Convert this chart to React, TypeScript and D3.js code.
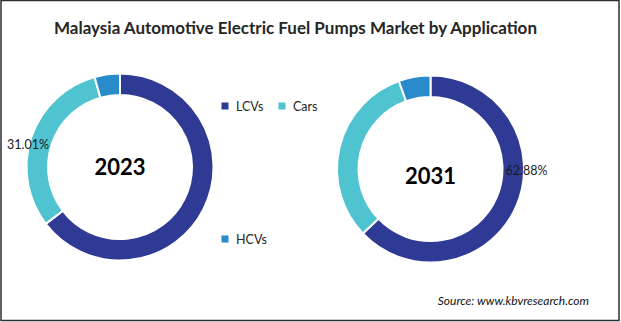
import React from "react";
import * as d3 from "d3";

const categories = ["LCVs", "Cars", "HCVs"];
const values2023 = [64.6, 31.01, 4.39];
const values2031 = [62.88, 31.62, 5.5];
const years = ["2023", "2031"];
const colors = ["#2E3A94", "#4FC3CF", "#2A8BCB"];
const title = "Malaysia Automotive Electric Fuel Pumps Market by Application";
const source = "Source: www.kbvresearch.com";

const W = 621;
const H = 322;
const FONT = "Lato, 'Open Sans', sans-serif";

type DonutProps = {
  cx: number;
  cy: number;
  values: number[];
  year: string;
  labelIndex: number;
  labelPos: [number, number];
  yearDy: number;
};

function Donut({ cx, cy, values, year, labelIndex, labelPos, yearDy }: DonutProps) {
  const pie = d3.pie<number>().sort(null).value((d) => d);
  const arcs = pie(values);
  const arc = d3.arc<d3.PieArcDatum<number>>().innerRadius(72).outerRadius(93.5);
  const fmt = (v: number) => v.toFixed(2) + "%";
  return (
    <g transform={`translate(${cx},${cy})`}>
      {arcs.map((a, i) => (
        <path key={i} d={arc(a) || ""} fill={colors[i]} stroke="#ffffff" strokeWidth={2} />
      ))}
      <text
        x={0}
        y={yearDy}
        textAnchor="middle"
        fontFamily={FONT}
        fontWeight={700}
        fontSize={22}
        fill="#000"
      >
        {year}
      </text>
      <text
        x={labelPos[0]}
        y={labelPos[1]}
        fontFamily={FONT}
        fontSize={12.5}
        fill="#1a1a1a"
      >
        {fmt(values[labelIndex])}
      </text>
    </g>
  );
}

export default function App() {
  const legend = [
    { i: 0, x: 225, y: 106 },
    { i: 1, x: 282, y: 106 },
    { i: 2, x: 225, y: 239 },
  ];
  return (
    <div style={{ position: "absolute", left: 0, top: 0 }}>
      <svg width={W} height={H} style={{ display: "block", background: "#fff" }}>
        <rect x={1} y={0.5} width={618} height={320} fill="#fff" stroke="#2a2f33" strokeWidth={1.5} />
        <text
          x={295.5}
          y={34}
          textAnchor="middle"
          fontFamily={FONT}
          fontWeight={700}
          fontSize={17}
          fill="#262626"
        >
          {title}
        </text>
        <Donut
          cx={120}
          cy={167}
          values={values2023}
          year={years[0]}
          labelIndex={1}
          labelPos={[-113, -18]}
          yearDy={8}
        />
        <Donut
          cx={430.5}
          cy={169}
          values={values2031}
          year={years[1]}
          labelIndex={0}
          labelPos={[75, 6]}
          yearDy={15}
        />
        {legend.map((l) => (
          <g key={l.i}>
            <rect x={l.x - 3.5} y={l.y - 3.5} width={7} height={7} fill={colors[l.i]} />
            <text x={l.x + 11} y={l.y + 4.5} fontFamily={FONT} fontSize={12.5} fill="#262626">
              {categories[l.i]}
            </text>
          </g>
        ))}
        <text
          x={589}
          y={305}
          textAnchor="end"
          fontFamily={FONT}
          fontStyle="italic"
          fontSize={12}
          fill="#111"
        >
          {source}
        </text>
      </svg>
    </div>
  );
}
